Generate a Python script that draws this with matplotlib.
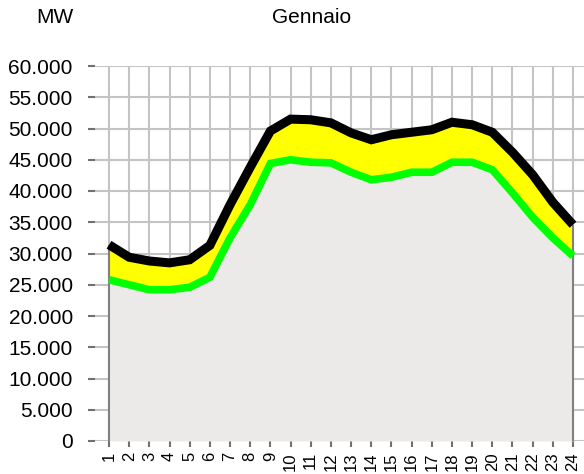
from matplotlib import pyplot
import numpy as np

# hourly load, January (MW)
hours = list(range(1, 25))
upper = [31400, 29400, 28800, 28500, 29000, 31300, 37800, 43800, 49600, 51500, 51400, 50900,
         49300, 48200, 49000, 49400, 49800, 51000, 50600, 49400, 46200, 42600, 38200, 34600]
lower = [25800, 25000, 24200, 24200, 24600, 26200, 32500, 37800, 44400, 45000, 44600, 44500,
         43000, 41800, 42200, 43000, 43000, 44600, 44600, 43400, 39700, 35800, 32500, 29600]
y_ticks = list(range(0, 60001, 5000))
y_labels = ['{:,}'.format(v).replace(',', '.') for v in y_ticks]

pyplot.rcParams['font.family'] = ['Liberation Sans', 'DejaVu Sans']

W, H = 584., 474.
fig = pyplot.figure(figsize=(W/100., H/100.), dpi=100)
ax = fig.add_axes([95/W, 1-441/H, 1-95/W, (441-66)/H])

x = np.array(hours)
hi = np.array(upper)
lo = np.array(lower)

# grid: horizontal lines span the axes, vertical only at the hours
for v in y_ticks:
    ax.axhline(v, color='#c4c4c4', lw=1.5, zorder=1)
ax.vlines(x, 0, 60000, color='#c4c4c4', lw=1.5, zorder=1)

ax.fill_between(x, 0, lo, color='#ece9e9', lw=0, zorder=2)
ax.fill_between(x, lo, hi, color='#ffff00', lw=0, zorder=3)
ax.vlines([x[0], x[-1]], 0, [hi[0], hi[-1]], color='#808080', lw=1.5, zorder=3.5)
ax.plot(x, lo, color='#00ff00', lw=5.5, solid_joinstyle='miter', solid_capstyle='butt', zorder=4)
ax.plot(x, hi, color='black', lw=6.5, solid_joinstyle='miter', solid_capstyle='butt', zorder=5)

ax.set_xlim(0.306, 24.545)
ax.set_ylim(0, 60000)
for s in ax.spines.values():
    s.set_visible(False)

ax.set_yticks(y_ticks)
ax.set_yticklabels(y_labels, fontsize=15)
ax.set_xticks(hours)
ax.set_xticklabels([str(h) for h in hours], rotation=90, fontsize=12)
ax.tick_params(axis='y', length=5, width=1.5, color='#707070', pad=11)
ax.tick_params(axis='x', length=4.5, width=1.5, color='#707070', pad=3.5)

fig.text(73/W, 1-17.5/H, 'MW', ha='right', va='center', fontsize=15)
fig.text(311.5/W, 1-17.5/H, 'Gennaio', ha='center', va='center', fontsize=15)

pyplot.savefig('out.png', dpi=100)
pyplot.close()
